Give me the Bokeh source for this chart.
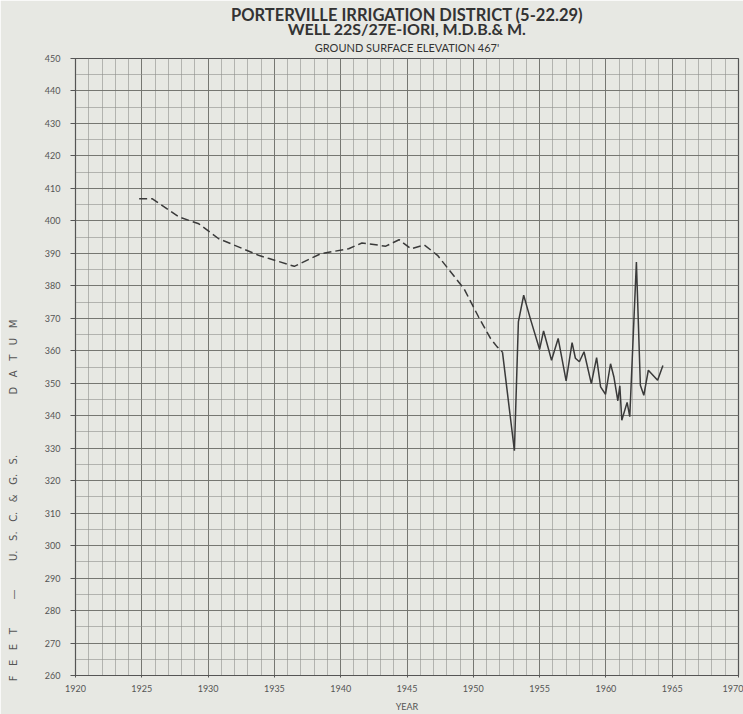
from bokeh.plotting import figure
from bokeh.models import Range1d, SingleIntervalTicker, Title
from bokeh.embed import file_html
from bokeh.resources import INLINE

# ---- data ----
dashed_years = [1924.8, 1925.8, 1927.8, 1929.3, 1930.8, 1931.7, 1933.8, 1934.6,
                1936.5, 1938.5, 1940.6, 1941.6, 1943.4, 1944.4, 1945.3, 1946.3,
                1947.3, 1949.3, 1950.4, 1951.3, 1951.8, 1952.2]
dashed_elev = [406.8, 406.8, 401.2, 399.1, 394.5, 393.0, 389.4, 388.4,
               386.0, 389.9, 391.4, 393.2, 392.2, 394.2, 391.4, 392.6,
               389.4, 379.1, 370.4, 363.8, 361.2, 359.6]

solid_years = [1952.2, 1953.1, 1953.4, 1953.8, 1954.3, 1955.0, 1955.3, 1955.9,
               1956.4, 1957.0, 1957.45, 1957.7, 1958.0, 1958.35, 1958.9, 1959.3,
               1959.6, 1959.97, 1960.35, 1960.6, 1960.9, 1961.05, 1961.2, 1961.6,
               1961.8, 1962.3, 1962.6, 1962.86, 1963.2, 1963.9, 1964.3]
solid_elev = [359.6, 329.2, 368.9, 377.1, 369.9, 360.4, 366.1, 357.1,
              363.8, 350.7, 362.5, 357.7, 356.6, 359.7, 349.9, 357.9,
              348.9, 346.6, 356.0, 352.0, 344.6, 349.2, 338.6, 344.1,
              339.7, 387.3, 349.4, 346.3, 354.0, 350.9, 355.5]

title_lines = ["PORTERVILLE IRRIGATION DISTRICT (5-22.29)",
               "WELL 22S/27E-IORI, M.D.B.& M.",
               "GROUND SURFACE ELEVATION 467'"]
x_label = "YEAR"
nb = "\u00a0"
y_label = (nb * 3).join("FEET") + nb * 9 + "\u2014" + nb * 9 + \
          (nb * 3).join(["U.", "S.", "C.", "&", "G.", "S."]) + nb * 19 + \
          (nb * 3).join("DATUM") + nb * 84

BG = "#e7e8e3"
FONT = "Lato"

p = figure(width=743, height=714, x_range=Range1d(1920, 1970), y_range=Range1d(260, 450),
           output_backend="svg", toolbar_location=None,
           min_border_left=75, min_border_right=5, min_border_top=58, min_border_bottom=38)
p.background_fill_color = BG
p.border_fill_color = BG
p.outline_line_color = "#555555"
p.outline_line_width = 1.2

xt = SingleIntervalTicker(interval=5, num_minor_ticks=5)
yt = SingleIntervalTicker(interval=10, num_minor_ticks=2)
p.xaxis.ticker = xt
p.yaxis.ticker = yt
p.xgrid.ticker = xt
p.ygrid.ticker = yt

for g in (p.xgrid, p.ygrid):
    g.grid_line_color = "#6f706c"
    g.grid_line_width = 1.0
    g.grid_line_alpha = 0.9
    g.minor_grid_line_color = "#8e8f8b"
    g.minor_grid_line_width = 0.8
    g.minor_grid_line_alpha = 0.75

for ax in (p.xaxis, p.yaxis):
    ax.axis_line_color = "#555555"
    ax.major_tick_line_color = "#555555"
    ax.minor_tick_line_color = None
    ax.major_label_text_font = FONT
    ax.major_label_text_font_size = "9px"
    ax.major_label_text_color = "#555555"

p.yaxis.major_tick_out = 5
p.yaxis.major_tick_in = 0
p.yaxis.major_label_standoff = 10
p.xaxis.major_tick_out = 2
p.xaxis.major_tick_in = 0
p.xaxis.major_label_standoff = 5

p.xaxis.axis_label = x_label
p.xaxis.axis_label_text_font = FONT
p.xaxis.axis_label_text_font_size = "9px"
p.xaxis.axis_label_text_font_style = "normal"
p.xaxis.axis_label_text_color = "#555555"
p.xaxis.axis_label_standoff = 6

p.yaxis.axis_label = y_label
p.yaxis.axis_label_text_font = "DejaVu Sans"
p.yaxis.axis_label_text_font_size = "10px"
p.yaxis.axis_label_text_font_style = "normal"
p.yaxis.axis_label_text_color = "#555555"
p.yaxis.axis_label_standoff = 23

p.line(dashed_years, dashed_elev, line_color="#3a3a3a", line_width=1.5, line_dash="8 4")
p.line(solid_years, solid_elev, line_color="#3a3a3a", line_width=1.5)

# titles: added nearest-to-plot first
sizes = ["16.5px", "16px", "11px"]
styles = ["bold", "bold", "normal"]
standoffs = [-7.5, -9, 10]
for txt, sz, st, so in reversed(list(zip(title_lines, sizes, styles, standoffs))):
    p.add_layout(Title(text=txt, align="center", text_font=FONT, text_font_size=sz,
                       text_font_style=st, text_color="#333333", standoff=so,
                       offset=0), "above")

open("out.html", "w").write(file_html(p, INLINE))
